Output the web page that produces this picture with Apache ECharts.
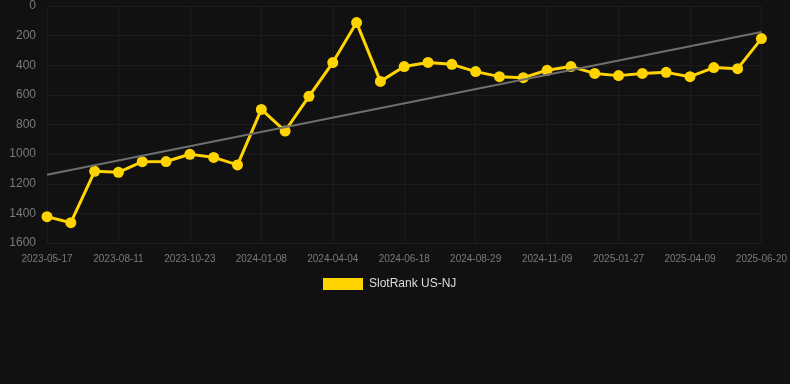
<!DOCTYPE html>
<html lang="en">
<head>
    <meta charset="UTF-8" />
    <title>SlotRank US-NJ</title>
    <script src="https://cdn.jsdelivr.net/npm/echarts@6/dist/echarts.min.js"></script>
    <style>
        html, body { margin: 0; padding: 0; background: #111111; }
    </style>
</head>
<body>
    <div id="main" style="width: 790px; height: 384px"></div>
    <script>
        // dates (category axis), every 3rd one shown as a label
        var dates = [
            '2023-05-17', '2023-06-15', '2023-07-13', '2023-08-11', '2023-09-05', '2023-09-29',
            '2023-10-23', '2023-11-18', '2023-12-13', '2024-01-08', '2024-02-06', '2024-03-05',
            '2024-04-04', '2024-04-29', '2024-05-24', '2024-06-18', '2024-07-13', '2024-08-05',
            '2024-08-29', '2024-09-22', '2024-10-16', '2024-11-09', '2024-12-05', '2024-12-31',
            '2025-01-27', '2025-02-20', '2025-03-16', '2025-04-09', '2025-05-03', '2025-05-27',
            '2025-06-20'
        ]
        // rank values
        var ranks = [
            1422, 1463, 1116, 1123, 1051, 1050, 1001, 1022, 1073, 698, 844, 610,
            382, 112, 509, 409, 381, 394, 443, 477, 484, 434, 409, 455,
            470, 455, 448, 477, 416, 423, 220
        ]
        // trend line end points (first and last date)
        var trend = [1139, 176]

        var chart = echarts.init(document.getElementById('main'))
        var option = {
            backgroundColor: '#111111',
            animation: false,
            textStyle: { fontFamily: 'Arial, "Liberation Sans", sans-serif' },
            grid: { left: 47, right: 28, top: 6, bottom: 141, containLabel: false },
            legend: {
                top: 278,
                left: 323,
                icon: 'rect',
                itemWidth: 40,
                itemHeight: 12,
                itemGap: 10,
                padding: 0,
                textStyle: { color: '#dddddd', fontSize: 12, padding: [0, 0, 0, 1] },
                data: ['SlotRank US-NJ']
            },
            xAxis: {
                type: 'category',
                data: dates,
                boundaryGap: false,
                axisLine: { show: false },
                axisTick: { show: false },
                axisLabel: { color: '#7a7a7a', fontSize: 10, interval: 2, margin: 11 },
                splitLine: { show: true, interval: 2, lineStyle: { color: '#1c1c1c', width: 1 } }
            },
            yAxis: {
                type: 'value',
                inverse: true,
                min: 0,
                max: 1600,
                interval: 200,
                axisLine: { show: false },
                axisTick: { show: false },
                axisLabel: {
                    color: '#7a7a7a',
                    fontSize: 12,
                    margin: 11,
                    formatter: function (v) { return String(v) }
                },
                splitLine: { lineStyle: { color: '#1c1c1c', width: 1 } }
            },
            series: [
                {
                    name: 'SlotRank US-NJ',
                    type: 'line',
                    data: ranks,
                    symbol: 'circle',
                    symbolSize: 11,
                    itemStyle: { color: '#ffd400' },
                    lineStyle: { color: '#ffd400', width: 3 },
                    z: 3,
                    markLine: {
                        silent: true,
                        symbol: ['none', 'none'],
                        label: { show: false },
                        lineStyle: { color: '#6e6e6e', width: 2, type: 'solid' },
                        data: [[
                            { coord: [dates[0], trend[0]] },
                            { coord: [dates[dates.length - 1], trend[1]] }
                        ]]
                    }
                }
            ]
        }
        chart.setOption(option)
    </script>
</body>
</html>
